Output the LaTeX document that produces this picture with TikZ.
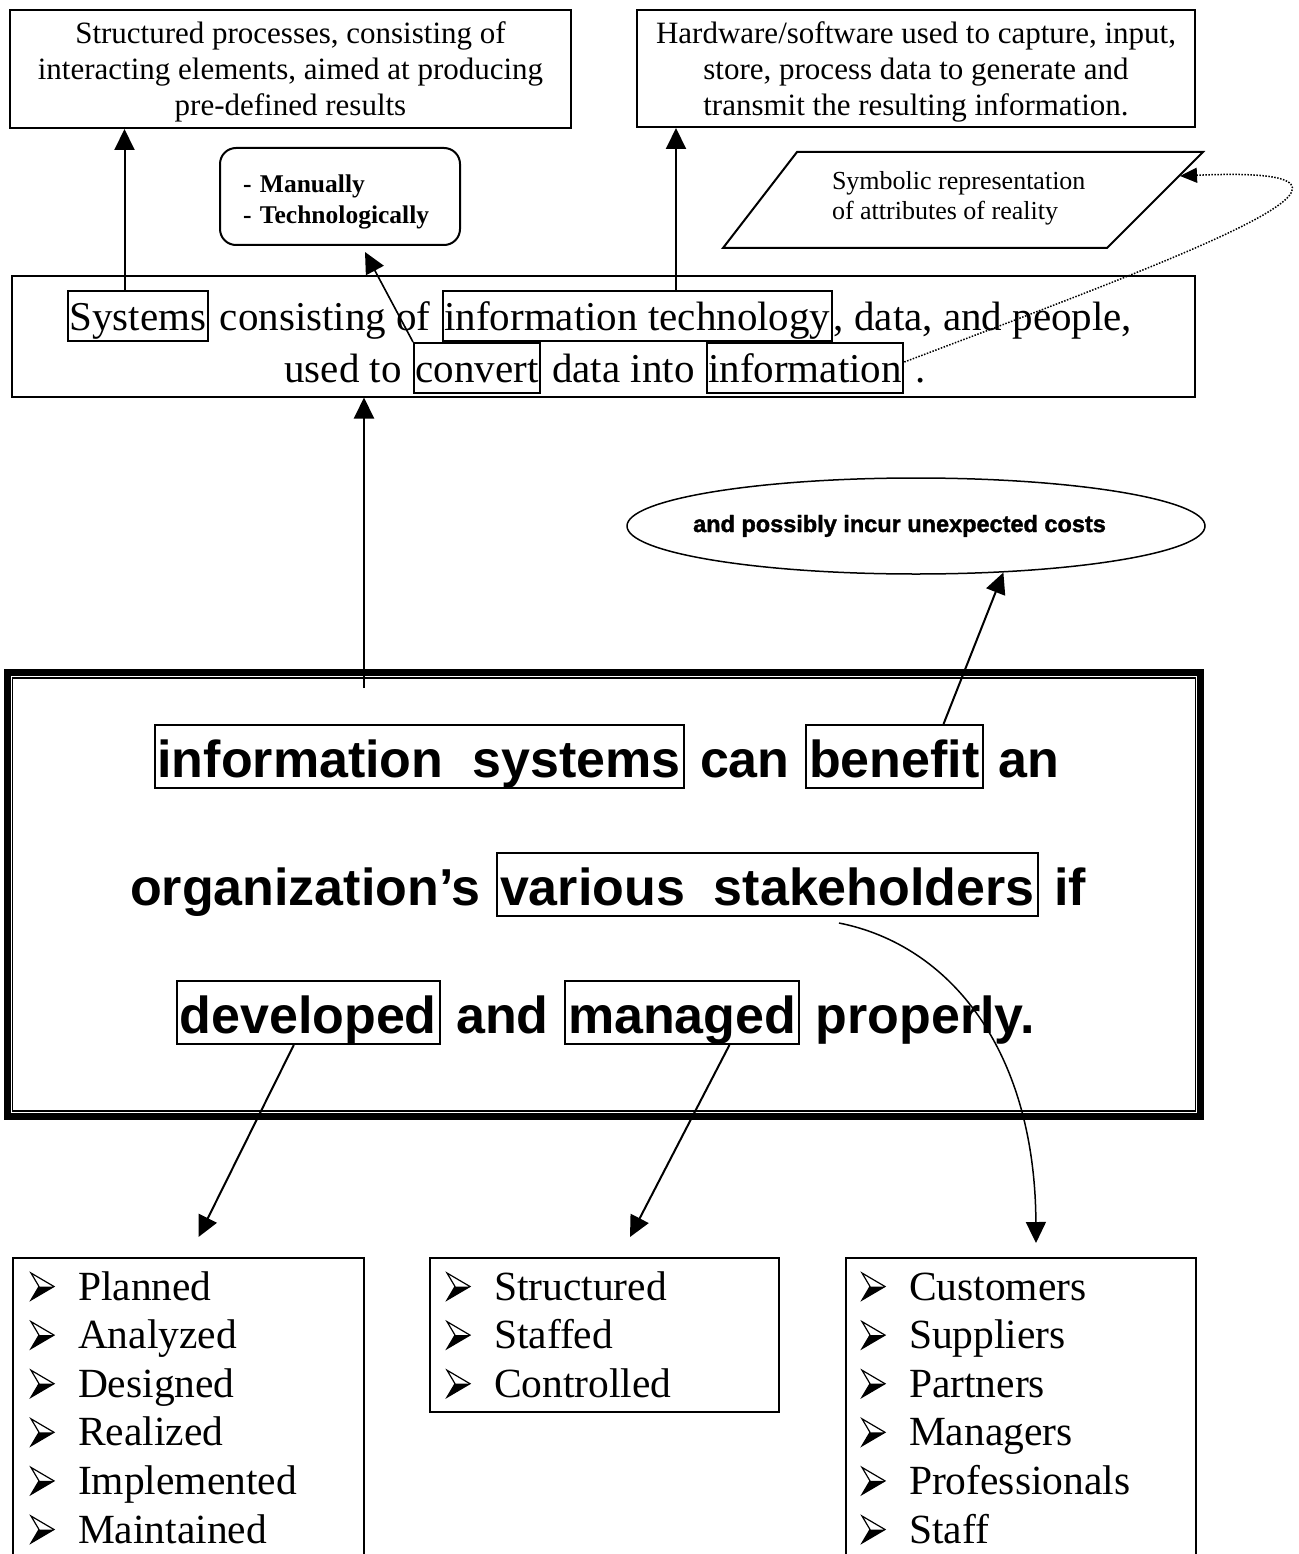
\documentclass[tikz,border=0pt]{standalone}
\usepackage{fontspec}
\setmainfont{Liberation Serif}
\newfontfamily\arialfont{Liberation Sans}
\newfontfamily\blackfont{Liberation Sans Bold}[FakeBold=1.6]
\usetikzlibrary{arrows.meta,shapes.geometric,calc}
\newcommand\sps{\kern0.25em}
\newcommand\spa{\kern0.278em}
\begin{document}
\begin{tikzpicture}[x=1pt,y=-1pt,line width=2pt,
  arr/.style={-{Triangle[length=21pt,width=20pt]}, line width=2pt},
  darr/.style={-{Triangle[length=17pt,width=15pt]}, line width=1.5pt, dash pattern=on 1.5pt off 1.5pt},
  topbox/.style={draw, line width=2pt, inner sep=0pt},
  toptext/.style={align=center, inner sep=0pt, font=\fontsize{31}{36}\selectfont},
  wbm/.style={draw, line width=2pt, anchor=base west, inner xsep=1.5pt, inner ysep=2pt, text height=37pt, text depth=9pt, font=\fontsize{41}{52}\selectfont},
  pm/.style={anchor=base west, inner sep=0pt, font=\fontsize{41}{52}\selectfont},
  wbb/.style={draw, line width=2pt, anchor=base west, inner xsep=3pt, inner ysep=3pt, text height=49pt, text depth=8pt, font=\arialfont\bfseries\fontsize{52}{60}\selectfont},
  pb/.style={anchor=base west, inner sep=0pt, font=\arialfont\bfseries\fontsize{52}{60}\selectfont},
  listbox/.style={draw, line width=2pt, anchor=north west, inner sep=0pt},
  item/.style={anchor=base west, inner sep=0pt, font=\fontsize{41.5}{48}\selectfont},
  bul/.pic={\draw[line width=1.2pt, line join=miter] (0,-27) -- (23,-13.5) -- (0,0) -- (8,-13.5) -- cycle;
            \fill (8,-13.5) -- (23,-13.5) -- (0,0) -- cycle;}
]
\useasboundingbox (0,0) rectangle (1298,1554);
\clip (0,0) rectangle (1298,1554);

% top boxes
\node[topbox, minimum width=561pt, minimum height=118pt] (procbox) at (290.5,69) {};
\node[toptext] (proctext) at (290.5,72) {Structured processes, consisting of\\interacting elements, aimed at producing\\pre-defined results};
\node[topbox, minimum width=558pt, minimum height=117pt] (hwbox) at (916,68.5) {};
\node[toptext] (hwtext) at (916,71.5) {Hardware/software used to capture, input,\\store, process data to generate and\\transmit the resulting information.};

% manual box
\node[draw, line width=2pt, rounded corners=16pt, minimum width=240pt, minimum height=97pt, inner sep=0pt] (manbox) at (340,196.5) {};
\node[text width=194pt, align=left, inner sep=0pt, font=\bfseries\fontsize{25.5}{31}\selectfont] (mantext) at (340,202) {- Manually\\- Technologically};

% parallelogram
\draw[line width=2pt] (797,152) -- (1203,152) -- (1107,248) -- (723,248) -- cycle;
\node[align=left, inner sep=0pt, font=\fontsize{26}{30}\selectfont, anchor=north west] (symtext) at (831,170) {Symbolic representation\\of attributes of reality};
\coordinate (symin) at (1180,176);

% main definition box
\node[draw, line width=2pt, minimum width=1183pt, minimum height=121pt, inner sep=0pt] (sysbox) at (603.5,336) {};
\node[wbm] (sysw) at (67,330) {Systems};
\node[pm] (m1) at (sysw.base east) {\sps consisting of\sps};
\node[wbm] (itw) at (m1.base east) {information technology};
\node[pm] (m2) at (itw.base east) {, data, and people,};
\node[wbm] (convw) at (413,382) {convert};
\node[pm, anchor=base east] (m3) at (convw.base west) {used to\sps};
\node[pm] (m4) at (convw.base east) {\sps data into\sps};
\node[wbm] (infow) at (m4.base east) {information};
\node[pm] (m5) at (infow.base east) {\sps .};

% ellipse
\node[ellipse, draw, line width=1.5pt, minimum width=578pt, minimum height=96pt, inner sep=0pt] (costs) at (916,526) {};
\node[font=\blackfont\fontsize{23.5}{28}\selectfont, inner sep=0pt, anchor=base] (coststext) at (899.5,532) {and possibly incur unexpected costs};

% big box
\node[minimum width=1200pt, minimum height=451pt, inner sep=0pt] (bigbox) at (604,894.5) {};
\draw[line width=7pt] (7.5,672.5) rectangle (1200.5,1116.5);
\draw[line width=1.5pt] (12.5,678) rectangle (1195.5,1111);
\node[wbb] (isw) at (153.5,777) {information\hspace{0.556em}systems};
\node[pb] (b1) at (isw.base east) {\spa can\spa};
\node[wbb] (benw) at (b1.base east) {benefit};
\node[pb] (b2) at (benw.base east) {\spa an};
\node[wbb] (stkw) at (496,905) {various\hspace{0.556em}stakeholders};
\node[pb, anchor=base east] (b3) at (stkw.base west) {organization’s\spa};
\node[pb] (b4) at (stkw.base east) {\spa if};
\node[wbb] (devw) at (175.5,1033) {developed};
\node[pb] (b5) at (devw.base east) {\spa and\spa};
\node[wbb] (mgw) at (b5.base east) {managed};
\node[pb] (b6) at (mgw.base east) {\spa properly.};

% list boxes
\node[listbox, minimum width=351pt, minimum height=330pt] (devbox) at (12,1257) {};
\node[listbox, minimum width=349pt, minimum height=154pt] (mgbox) at (429,1257) {};
\node[listbox, minimum width=350pt, minimum height=330pt] (stkbox) at (845,1257) {};
\foreach \t [count=\i] in {Planned,Analyzed,Designed,Realized,Implemented,Maintained}{
  \pic at (31,{1251.4+48.6*\i}) {bul};
  \node[item] (dev\i) at (77,{1251.4+48.6*\i}) {\t};}
\foreach \t [count=\i] in {Structured,Staffed,Controlled}{
  \pic at (447,{1251.4+48.6*\i}) {bul};
  \node[item] (mg\i) at (493,{1251.4+48.6*\i}) {\t};}
\foreach \t [count=\i] in {Customers,Suppliers,Partners,Managers,Professionals,Staff}{
  \pic at (862,{1251.4+48.6*\i}) {bul};
  \node[item] (stk\i) at (908,{1251.4+48.6*\i}) {\t};}

% connectors
\coordinate (ax1) at (124.5,0);
\draw[arr] (sysw.north -| ax1) -- (procbox.south -| ax1);
\coordinate (ax2) at (676,0);
\draw[arr] (itw.north -| ax2) -- (hwbox.south -| ax2);
\draw[arr, line width=1.6pt] (convw.north west) -- ($(manbox.south)+(25,6)$);
\draw[darr] ([yshift=6pt]infow.east) .. controls (1200,250) and (1430,165) .. (symin);
\coordinate (bigstart) at (364,688);
\draw[arr] (bigstart) -- (bigstart |- sysbox.south);
\draw[arr] ($(benw.north west)!0.776!(benw.north east)$) -- (costs.-28.5);
\draw[arr] ($(devw.south west)!0.446!(devw.south east)$) -- ($(devbox.north)+(10,-20)$);
\draw[arr] ($(mgw.south west)!0.70!(mgw.south east)$) -- ($(mgbox.north)+(25.5,-20)$);
\draw[arr, line width=1.5pt] ($(stkw.south west)!0.632!(stkw.south east)+(0,6)$) .. controls (950,945) and (1035,1050) .. ($(stkbox.north)+(15,-14)$);
\end{tikzpicture}
\end{document}
